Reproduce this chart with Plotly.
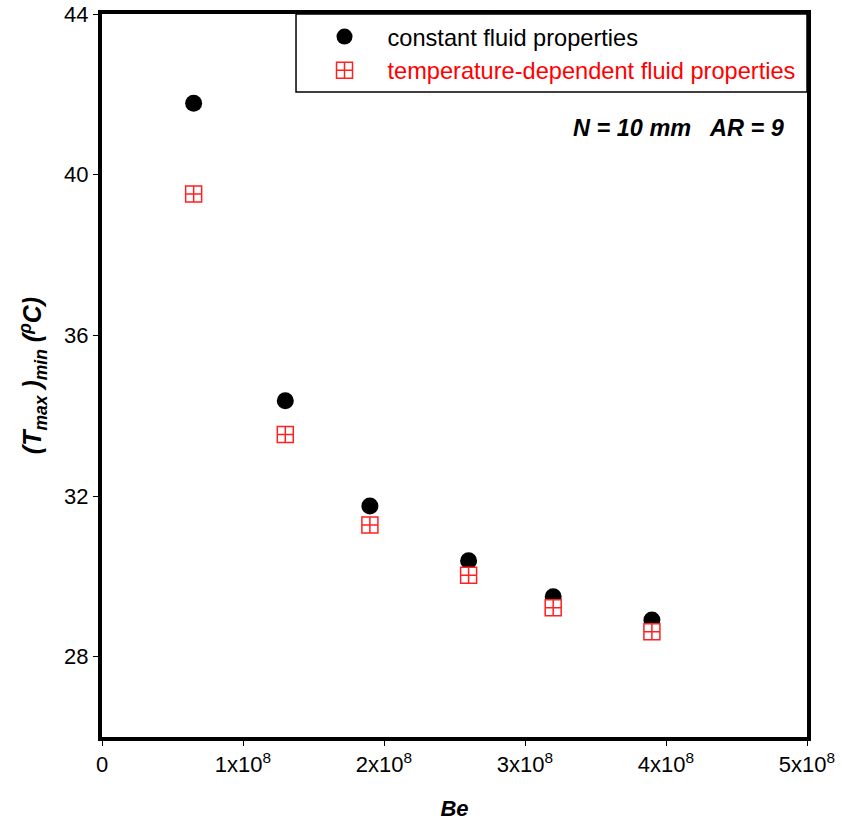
import plotly.graph_objects as go

# Bejan number values and the minimised peak temperature for each fluid model
be = [0.65e8, 1.3e8, 1.9e8, 2.6e8, 3.2e8, 3.9e8]
t_constant = [41.78, 34.37, 31.75, 30.39, 29.49, 28.91]
t_variable = [39.52, 33.53, 31.28, 30.03, 29.22, 28.62]

x_tick_vals = [0, 1e8, 2e8, 3e8, 4e8, 5e8]
x_tick_text = ["0", "1x10<sup>8</sup>", "2x10<sup>8</sup>", "3x10<sup>8</sup>",
               "4x10<sup>8</sup>", "5x10<sup>8</sup>"]
y_tick_vals = [28, 32, 36, 40, 44]

FONT = "Liberation Sans, Arial, sans-serif"

fig = go.Figure()
fig.add_trace(go.Scatter(
    x=be, y=t_constant, mode="markers", name="constant fluid properties",
    marker=dict(symbol="circle", size=17, color="black"),
))
fig.add_trace(go.Scatter(
    x=be, y=t_variable, mode="markers",
    name='<span style="color:#ff0000">temperature-dependent fluid properties</span>',
    marker=dict(symbol="square-cross", size=16, color="white",
                line=dict(color="#ff2020", width=1.5)),
))

axis_common = dict(
    showline=True, linewidth=4, linecolor="black", mirror=True,
    showgrid=False, zeroline=False, automargin=False,
    ticks="outside", ticklen=5, tickwidth=1, tickcolor="black",
    tickfont=dict(family=FONT, size=22, color="black"),
)

fig.update_layout(
    width=845, height=821,
    margin=dict(l=102, r=38, t=14, b=84),
    paper_bgcolor="white", plot_bgcolor="white",
    font=dict(family=FONT, color="black"),
    showlegend=True,
    legend=dict(
        x=0.283, y=0.999, xanchor="left", yanchor="top",
        bgcolor="rgba(0,0,0,0)", borderwidth=0,
        font=dict(family=FONT, size=23.6, color="black"),
        itemwidth=76, traceorder="normal",
    ),
    xaxis=dict(
        range=[0, 5e8], tickvals=x_tick_vals, ticktext=x_tick_text,
        title=dict(text="<b><i>Be</i></b>", font=dict(family=FONT, size=22),
                   standoff=25),
        **axis_common,
    ),
    yaxis=dict(
        range=[26, 44], tickvals=y_tick_vals,
        title=dict(text="<b><i>(T<sub>max</sub> )<sub>min</sub> (<sup>ρ</sup>C)</i></b>",
                   font=dict(family=FONT, size=25), standoff=16),
        **axis_common,
    ),
    shapes=[dict(
        type="rect", xref="paper", yref="paper",
        x0=0.2752, x1=1, y0=0.892, y1=1,
        line=dict(color="black", width=1.5), fillcolor="white", layer="below",
    )],
    annotations=[dict(
        text="<b><i>N = 10 mm &nbsp; AR = 9</i></b>",
        xref="paper", yref="paper", x=0.970, y=0.842,
        xanchor="right", yanchor="middle", showarrow=False,
        font=dict(family=FONT, size=23.5, color="black"),
    )],
)

fig.write_html("out.html")
